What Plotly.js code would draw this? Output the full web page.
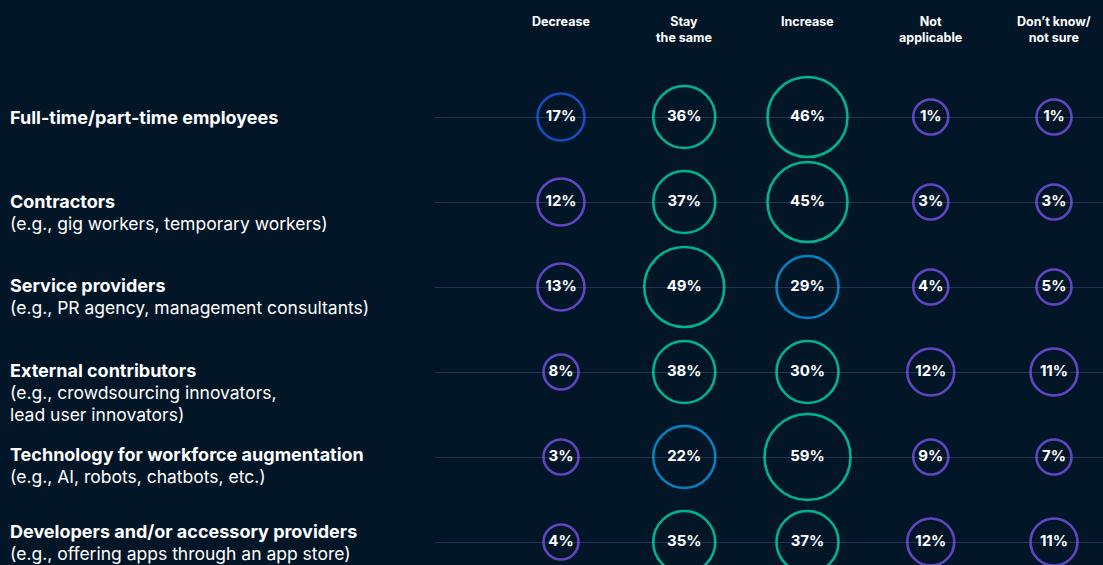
<!DOCTYPE html>
<html>
<head>
<meta charset="utf-8">
<script src="https://cdn.plot.ly/plotly-3.0.1.min.js"></script>
<style>
html,body{margin:0;padding:0;background:#031628;}
#chart{width:1103px;height:565px;}
</style>
</head>
<body>
<div id="chart"></div>
<script>
// ---- data ----
var responses = ["Decrease", "Stay<br>the same", "Increase", "Not<br>applicable", "Don\u2019t know/<br>not sure"];
var rowTitles = [
  "Full-time/part-time employees",
  "Contractors",
  "Service providers",
  "External contributors",
  "Technology for workforce augmentation",
  "Developers and/or accessory providers"
];
var rowSubtitles = [
  [],
  ["(e.g., gig workers, temporary workers)"],
  ["(e.g., PR agency, management consultants)"],
  ["(e.g., crowdsourcing innovators,", "lead user innovators)"],
  ["(e.g., AI, robots, chatbots, etc.)"],
  ["(e.g., offering apps through an app store)"]
];
var decrease     = [17, 12, 13, 8, 3, 4];
var staySame     = [36, 37, 49, 38, 22, 35];
var increase     = [46, 45, 29, 30, 59, 37];
var notApplicable= [1, 3, 4, 12, 9, 12];
var dontKnow     = [1, 3, 5, 11, 7, 11];

// ---- styling helpers ----
var series = [decrease, staySame, increase, notApplicable, dontKnow];
function sizeFor(v){
  if (v < 10) return 35;
  if (v < 20) return 47;
  if (v < 40) return 62;
  if (v < 50) return 80;
  return 86;
}
function colorFor(v){
  if (v < 15) return "#8659ff";
  if (v < 20) return "#2063ff";
  if (v < 30) return "#08aeff";
  return "#00f5c0";
}

var traces = [];
series.forEach(function(vals, ci){
  var xs = vals.map(function(){ return ci; });
  var ys = vals.map(function(_, ri){ return ri; });
  traces.push({
    type: "scatter",
    mode: "markers+text",
    x: xs,
    y: ys,
    text: vals.map(function(v){ return "<b>" + v + "%</b>"; }),
    textposition: "middle center",
    textfont: {family: "Inter, 'Open Sans', sans-serif", size: 15, color: "#ffffff"},
    marker: {
      size: vals.map(sizeFor),
      color: "rgba(0,0,0,0)",
      line: {color: vals.map(colorFor), width: 2.6}
    },
    hoverinfo: "skip",
    cliponaxis: false,
    showlegend: false
  });
});

var annotations = [];
responses.forEach(function(r, ci){
  annotations.push({
    x: ci, xref: "x",
    y: 1 - 12/565, yref: "paper",
    yanchor: "top", xanchor: "center",
    text: "<b>" + r + "</b>",
    showarrow: false,
    align: "center",
    font: {family: "Inter, 'Open Sans', sans-serif", size: 12.5, color: "#ffffff"}
  });
});
var labelShift = [0, 1, 2, 2, 3, 11];
rowTitles.forEach(function(t, ri){
  var parts = ["<b><span style=\"font-size:18px\">" + t + "</span></b>"];
  rowSubtitles[ri].forEach(function(s){ parts.push("<span style=\"font-size:17.5px\">" + s + "</span>"); });
  annotations.push({
    x: 10/1103, xref: "paper",
    y: ri, yref: "y",
    xanchor: "left",
    xshift: -2,
    yanchor: ri === 0 ? "middle" : "top",
    yshift: ri === 0 ? 0 : 12 + labelShift[ri],
    text: parts.join("<br>"),
    showarrow: false,
    align: "left",
    font: {family: "Inter, 'Open Sans', sans-serif", size: 16.8, color: "#ffffff"}
  });
});

var layout = {
  width: 1103, height: 565,
  margin: {l: 0, r: 0, t: 0, b: 0},
  paper_bgcolor: "#031628",
  plot_bgcolor: "#031628",
  xaxis: {
    domain: [435/1103, 1],
    range: [-126/123.25, 4 + 49/123.25],
    showgrid: false, zeroline: false, showticklabels: false, showline: false
  },
  yaxis: {
    range: [(565-117)/85, -117/85],
    tickvals: [0,1,2,3,4,5],
    showgrid: true, gridcolor: "#1e3558", gridwidth: 1,
    zeroline: false, showticklabels: false, showline: false
  },
  annotations: annotations
};

Plotly.newPlot("chart", traces, layout, {displayModeBar: false, staticPlot: true});
</script>
</body>
</html>
